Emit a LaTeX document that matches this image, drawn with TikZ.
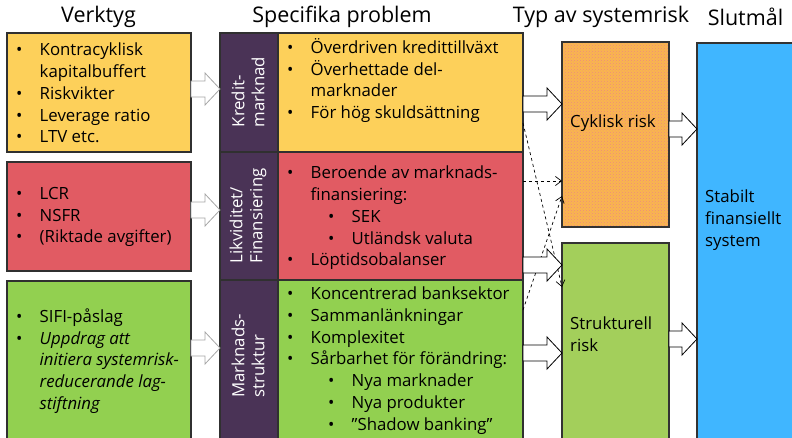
\documentclass[tikz,border=0pt]{standalone}
\usepackage{fontspec}
\setmainfont{Open Sans}
\usetikzlibrary{calc,patterns,arrows.meta}
\definecolor{cyel}{HTML}{FDD05A}
\definecolor{cred}{HTML}{E15B63}
\definecolor{cgrn}{HTML}{92D050}
\definecolor{cgrnb}{HTML}{A3CF5B}
\definecolor{cblue}{HTML}{40B6FF}
\definecolor{cpur}{HTML}{4A3356}
\definecolor{corg}{HTML}{F9B64E}
\definecolor{cdot}{HTML}{EE8A80}
\definecolor{cedge}{HTML}{303030}
\newcommand\bl[1]{\makebox[23.5pt][l]{\textbullet}#1}
\newcommand\ct[1]{\hspace*{23.5pt}#1}
\newcommand\sbl[1]{\hspace*{41pt}\makebox[23.5pt][l]{\textbullet}#1}
\newcommand\blockarr[4]{%
  \path (#1.east |- 0,#3) coordinate (ba0) (#2.west |- 0,#3) coordinate (ba1);
  \draw[#4] let \p0=(ba0), \p1=(ba1), \n1={\x1-15pt} in
    (\x0,\y0+8pt) -- (\n1,\y0+8pt) -- (\n1,\y0+16pt) -- (\x1,\y1)
    -- (\n1,\y0-16pt) -- (\n1,\y0-8pt) -- (\x0,\y0-8pt) -- cycle;}
\begin{document}
\begin{tikzpicture}[x=1pt,y=-1pt,
  box/.style={draw=cedge,line width=1.2pt,anchor=north west,inner sep=0,outer sep=0},
  txt/.style={anchor=west,align=left,inner sep=0,font=\fontsize{16.8}{21.8}\selectfont},
  head/.style={inner sep=0,font=\fontsize{21.5}{25}\selectfont},
  plab/.style={rotate=90,align=left,inner sep=0,text=white,font=\fontsize{16.8}{20}\selectfont},
  grayarr/.style={draw=gray!70,fill=white,line width=0.8pt},
  blackarr/.style={draw=black,fill=white,line width=0.8pt},
  dasharr/.style={dashed,line width=0.7pt,-{Straight Barb[length=6pt,width=9pt]}}]
\useasboundingbox (0,0) rectangle (792,437);
\clip (0,0) rectangle (792,437);
% headings
\node[head] (h1) at (98.5,17) {Verktyg};
\node[head] (h2) at (342,17) {Specifika problem};
\node[head] (h3) at (601,17) {Typ av systemrisk};
\node[head] (h4) at (745.5,17) {Slutmål};
% left boxes
\node[box,fill=cyel,minimum width=184,minimum height=119] (lyel) at (7,33) {};
\node[box,fill=cred,minimum width=184,minimum height=109] (lred) at (7,162) {};
\node[box,fill=cgrn,minimum width=184,minimum height=175] (lgrn) at (7,281) {};
% purple column
\node[box,fill=cpur,minimum width=58,minimum height=119] (pk) at (220,33) {};
\node[box,fill=cpur,minimum width=58,minimum height=128] (pl) at (220,152) {};
\node[box,fill=cpur,minimum width=58,minimum height=175] (pm) at (220,280) {};
% middle boxes
\node[box,fill=cyel,minimum width=245,minimum height=119] (myel) at (278,33) {};
\node[box,fill=cred,minimum width=245,minimum height=128] (mred) at (278,152) {};
\node[box,fill=cgrn,minimum width=245,minimum height=175] (mgrn) at (278,280) {};
% risk boxes
\node[box,draw=gray!40!black,fill=corg,minimum width=107,minimum height=185] (cyk) at (562,42) {};
\fill[pattern=crosshatch dots,pattern color=cdot] (cyk.north west) rectangle (cyk.south east);
\draw[draw=gray!40!black,line width=1.2pt] (cyk.north west) rectangle (cyk.south east);
\node[box,draw=gray!40!black,fill=cgrnb,minimum width=107,minimum height=215] (str) at (562,243) {};
\node[box,draw=gray!40!black,fill=cblue,minimum width=120,minimum height=415] (blue) at (697,43) {};
% texts left
\node[txt] (tlyel) at (16,93) {\bl{Kontracyklisk}\\\ct{kapitalbuffert}\\\bl{Riskvikter}\\\bl{Leverage ratio}\\\bl{LTV etc.}};
\node[txt] (tlred) at (16,217) {\bl{LCR}\\\bl{NSFR}\\\bl{(Riktade avgifter)}};
\node[txt] (tlgrn) at (16,361) {\bl{SIFI-påslag}\\\bl{\itshape Uppdrag att}\\\ct{\itshape initiera systemrisk-}\\\ct{\itshape reducerande lag-}\\\ct{\itshape stiftning}};
% purple labels
\node[plab] (tpk) at (248,92) {Kredit-\\marknad};
\node[plab] (tpl) at (248,216) {Likviditet/\\Finansiering};
\node[plab] (tpm) at (248,356) {Marknads-\\struktur};
% texts middle
\node[txt] (tmyel) at (287,80.5) {\bl{Överdriven kredittillväxt}\\\bl{Överhettade del-}\\\ct{marknader}\\\bl{För hög skuldsättning}};
\node[txt] (tmred) at (287,218) {\bl{Beroende av marknads-}\\\ct{finansiering:}\\\sbl{SEK}\\\sbl{Utländsk valuta}\\\bl{Löptidsobalanser}};
\node[txt] (tmgrn) at (287,360.5) {\bl{Koncentrerad banksektor}\\\bl{Sammanlänkningar}\\\bl{Komplexitet}\\\bl{Sårbarhet för förändring:}\\\sbl{Nya marknader}\\\sbl{Nya produkter}\\\sbl{”Shadow banking”}};
% risk texts
\node[txt] (tcyk) at (570,123) {Cyklisk risk};
\node[txt] (tstr) at (570,334) {Strukturell\\risk};
\node[txt] (tblue) at (705,220) {Stabilt\\finansiellt\\system};
% arrows
\blockarr{lyel}{pk}{89}{grayarr}
\blockarr{lred}{pl}{210}{grayarr}
\blockarr{lgrn}{pm}{348}{grayarr}
\draw[dasharr] (myel.east |- 0,123) -- (str.west |- 0,287);
\draw[dasharr] (mred.east |- 0,181) -- (cyk.west |- 0,181);
\draw[dasharr] (mgrn.east |- 0,310) -- (cyk.west |- 0,196);
\blockarr{myel}{cyk}{104}{blackarr}
\blockarr{mred}{str}{265}{blackarr}
\blockarr{mgrn}{str}{353}{blackarr}
\blockarr{cyk}{blue}{129}{blackarr}
\blockarr{str}{blue}{339}{blackarr}
\end{tikzpicture}
\end{document}
